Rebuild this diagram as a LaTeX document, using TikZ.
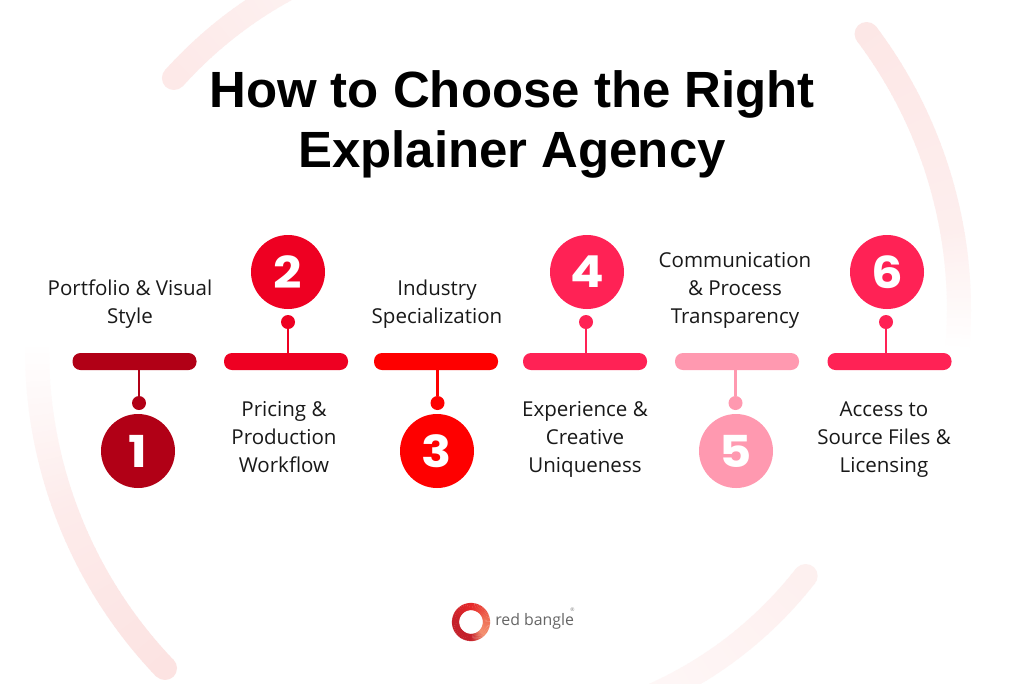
\documentclass[tikz,border=0pt]{standalone}
\usepackage{graphicx}
\usepackage{fontspec}
\setmainfont{Open Sans}
\newfontfamily\titlefont{Liberation Sans}[BoldFont={Liberation Sans Bold}]
\newfontfamily\numfont{Poppins}
\definecolor{cA}{HTML}{B10016}
\definecolor{cB}{HTML}{EE0022}
\definecolor{cC}{HTML}{FE0000}
\definecolor{cD}{HTML}{FF2255}
\definecolor{cE}{HTML}{FF99B0}
\definecolor{cF}{HTML}{FF2255}
\definecolor{arcpink}{HTML}{FCE3E2}
\definecolor{logoA}{HTML}{C4202A}
\definecolor{logoB}{HTML}{E6282A}
\definecolor{logoC}{HTML}{EE6A50}
\definecolor{logoD}{HTML}{F4906F}
\newcommand{\fadearc}[7]{% cx cy R a0 a1 p0 p1
  \foreach \k in {1,...,30}{
    \pgfmathsetmacro{\aS}{#4+(#5-#4)*(\k-1)/30}
    \pgfmathsetmacro{\aE}{#4+(#5-#4)*(\k+0.15)/30}
    \pgfmathsetmacro{\pp}{#6+(#7-#6)*(\k-0.5)/30}
    \draw[bgarc,color=arcpink!\pp!white] ({#1+#3*cos(\aS)},{#2+#3*sin(\aS)}) -- ({#1+#3*cos(\aE)},{#2+#3*sin(\aE)});
  }}
\newcommand{\arccap}[5]{% cx cy R a p : the rounded end
  \draw[bgarc,line cap=round,color=arcpink!#5!white] ({#1+#3*cos(#4)},{#2+#3*sin(#4)}) -- ({#1+#3*cos(#4)+0.01},{#2+#3*sin(#4)});}
\newcommand{\logoarc}[4]{% a0 a1 colour0 colour1
  \foreach \k in {1,...,14}{
    \pgfmathsetmacro{\aS}{#1+(#2-#1)*(\k-1)/14}
    \pgfmathsetmacro{\aE}{#1+(#2-#1)*(\k+0.2)/14}
    \pgfmathsetmacro{\pp}{100*(\k-0.5)/14}
    \draw[line width=5.4pt,color=#4!\pp!#3] ({471+15.5*cos(\aS)},{622+15.5*sin(\aS)}) -- ({471+15.5*cos(\aE)},{622+15.5*sin(\aE)});
  }}
\tikzset{
  x=0.75pt,y=-0.75pt,
  bgarc/.style={line width=18pt,line cap=butt},
  barbox/.style={rectangle,rounded corners=6pt,minimum width=93pt,minimum height=12.75pt,inner sep=0pt,fill=#1},
  numdisc/.style={circle,minimum size=55.5pt,inner sep=0pt,fill=#1,text=white,font=\numfont\bfseries\fontsize{33pt}{33pt}\selectfont},
  pindot/.style={circle,minimum size=10.5pt,inner sep=0pt,fill=#1},
  pinline/.style={line width=2.2pt,color=#1},
  steplabel/.style={align=center,text=black!90,font=\fontsize{15.4pt}{21pt}\selectfont,inner sep=0pt},
  titletext/.style={align=center,text=black,font=\titlefont\bfseries\fontsize{38.2pt}{45.5pt}\selectfont,inner sep=0pt},
}
\begin{document}
\begin{tikzpicture}
\useasboundingbox (0,0) rectangle (1024,683);
\clip (0,0) rectangle (1024,683);
\fill[white] (0,0) rectangle (1024,683);
% background arcs
\arccap{500}{310}{459}{-37}{85}
\fadearc{500}{310}{459}{-37}{-10}{85}{60}
\fadearc{500}{310}{459}{-10}{5}{60}{0}
\arccap{497}{350}{460}{136.2}{100}
\fadearc{497}{350}{460}{136.2}{160}{100}{70}
\fadearc{497}{350}{460}{160}{181}{70}{0}
\arccap{488}{360}{422}{221.9}{80}
\fadearc{488}{360}{422}{221.9}{250}{80}{40}
\arccap{490}{330}{400}{37.9}{55}
\fadearc{490}{330}{400}{37.9}{70}{55}{25}
% title
\node[titletext] (title) at (512,124.5) {How to Choose the Right\\Explainer Agency};
% steps
\foreach \n/\bx/\cx/\cy/\px/\dy/\col in {1/134.5/138/451/139/403/cA,2/286/288/272/288/322/cB,3/436/437/451/437.5/403/cC,4/585/587/272/586/322/cD,5/737/736/451/735.5/403/cE,6/889.5/887/272/886/322/cF}{
  \node[barbox=\col] (bar\n) at (\bx,361.5) {};
  \node[numdisc=\col] (num\n) at (\cx,\cy) {\scalebox{1.13}[1]{\n}};
  \node[pindot=\col] (pin\n) at (\px,\dy) {};
  \draw[pinline=\col] (pin\n) -- (pin\n |- bar\n);
}
% labels
\node[steplabel] (lab1) at (130,304) {Portfolio \& Visual\\Style};
\node[steplabel] (lab2) at (284,437) {Pricing \&\\Production\\Workflow};
\node[steplabel] (lab3) at (437,304) {Industry\\Specialization};
\node[steplabel] (lab4) at (585,439) {Experience \&\\Creative\\Uniqueness};
\node[steplabel] (lab5) at (735,290) {Communication\\\& Process\\Transparency};
\node[steplabel] (lab6) at (884,440) {Access to\\Source Files \&\\Licensing};
% logo
\logoarc{90}{180}{logoA}{logoA}
\logoarc{180}{270}{logoA}{logoB}
\logoarc{270}{345}{logoB}{logoC}
\logoarc{345}{405}{logoC}{logoD}
\logoarc{405}{450}{logoD}{logoA}
\node[inner sep=0pt,anchor=west,text=black!60,font=\fontsize{11.9pt}{14pt}\selectfont] (logotext) at (495,621) {red bangle};
\node[inner sep=0pt,text=black!50,font=\fontsize{3.8pt}{4pt}\selectfont] (logomark) at (572.5,610) {®};
\end{tikzpicture}
\end{document}
